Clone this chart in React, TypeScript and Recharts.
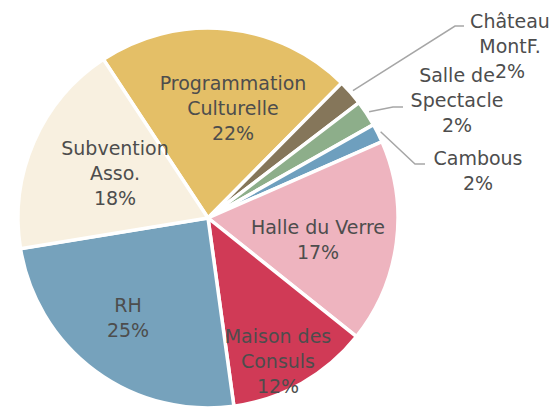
import React from 'react';
import { PieChart, Pie, Cell } from 'recharts';

const categories = [
  'Programmation Culturelle',
  'Château MontF.',
  'Salle de Spectacle',
  'Cambous',
  'Halle du Verre',
  'Maison des Consuls',
  'RH',
  'Subvention Asso.',
];
const values = [21.7, 2.2, 2.2, 1.6, 17.3, 12.1, 24.6, 18.3];
const labelLines = [
  ['Programmation', 'Culturelle'],
  ['Château', 'MontF.'],
  ['Salle de', 'Spectacle'],
  ['Cambous'],
  ['Halle du Verre'],
  ['Maison des', 'Consuls'],
  ['RH'],
  ['Subvention', 'Asso.'],
];
const colors = ['#E4BF67', '#85765A', '#8DAE8A', '#6E9FBE', '#EEB4BF', '#D03A56', '#76A2BC', '#F8F0E0'];

// label layout (offsets from pie centre, px)
const inside: Record<number, [number, number]> = {
  0: [25, -110],
  4: [110, 21],
  5: [70, 143],
  6: [-80, 99],
  7: [-93, -45],
};
const outside: Record<number, { elbow: [number, number]; end: [number, number]; text: [number, number] }> = {
  1: { elbow: [247, -192], end: [256, -192], text: [302, -172] },
  2: { elbow: [185, -111], end: [195, -111], text: [249, -118] },
  3: { elbow: [207, -54], end: [217, -54], text: [270, -48] },
};

const data = categories.map((name, i) => ({ name, value: values[i] }));

const RAD = Math.PI / 180;
const LINE_H = 25;
const textStyle = { fontFamily: 'DejaVu Sans', fontSize: 19, fill: '#4D4D4D' };

const renderLabel = (props: any) => {
  const { cx, cy, midAngle, outerRadius, percent, index } = props;
  const lines = [...labelLines[index], `${Math.round(percent * 100)}%`];
  const n = lines.length;
  if (inside[index]) {
    const [dx, dy] = inside[index];
    const x = cx + dx;
    const y0 = cy + dy - ((n - 1) * LINE_H) / 2;
    return (
      <text key={`l${index}`} x={x} y={y0} textAnchor="middle" dominantBaseline="central" style={textStyle}>
        {lines.map((l, k) => (
          <tspan key={k} x={x} y={y0 + k * LINE_H}>
            {l}
          </tspan>
        ))}
      </text>
    );
  }
  const o = outside[index];
  const sx = cx + (outerRadius + 3) * Math.cos(-midAngle * RAD);
  const sy = cy + (outerRadius + 3) * Math.sin(-midAngle * RAD);
  const x = cx + o.text[0];
  const y0 = cy + o.text[1] - ((n - 1) * LINE_H) / 2;
  return (
    <g key={`l${index}`}>
      <polyline
        points={`${sx},${sy} ${cx + o.elbow[0]},${cy + o.elbow[1]} ${cx + o.end[0]},${cy + o.end[1]}`}
        fill="none"
        stroke="#A6A6A6"
        strokeWidth={1.5}
      />
      <text x={x} y={y0} textAnchor="middle" dominantBaseline="central" style={textStyle}>
        {lines.map((l, k) => (
          <tspan key={k} x={x} y={y0 + k * LINE_H}>
            {l}
          </tspan>
        ))}
      </text>
    </g>
  );
};

export default function App() {
  return (
    <div style={{ position: 'absolute', left: 0, top: 0, width: 558, height: 410, background: '#fff' }}>
      <PieChart width={558} height={410} margin={{ top: 0, right: 0, bottom: 0, left: 0 }}>
        <Pie
          data={data}
          dataKey="value"
          nameKey="name"
          cx={208}
          cy={218}
          outerRadius={190}
          startAngle={123.4}
          endAngle={-236.6}
          stroke="#FFFFFF"
          strokeWidth={3.5}
          label={renderLabel}
          labelLine={false}
          isAnimationActive={false}
        >
          {data.map((d, i) => (
            <Cell key={d.name} fill={colors[i]} />
          ))}
        </Pie>
      </PieChart>
    </div>
  );
}
